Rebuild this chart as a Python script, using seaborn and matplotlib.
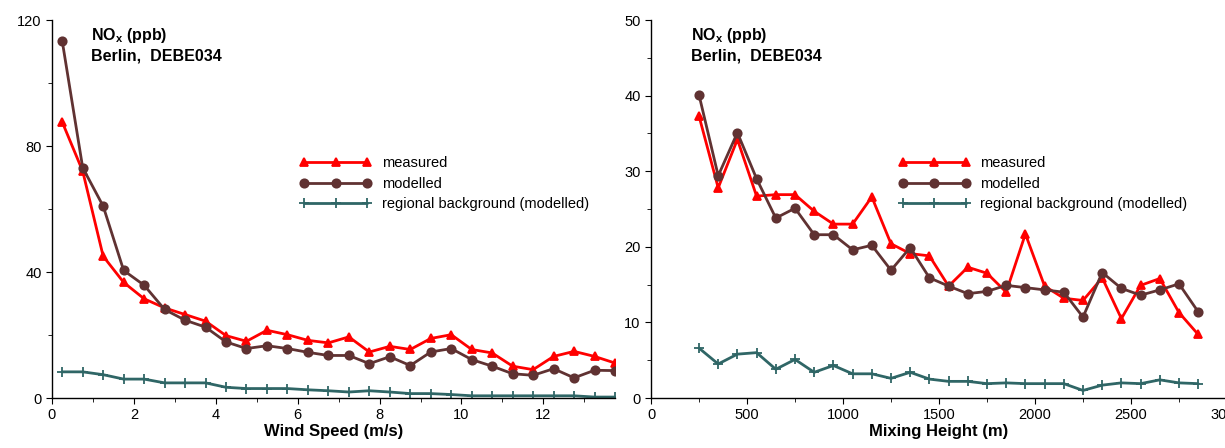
import matplotlib
matplotlib.use("Agg")
import pandas as pd
import seaborn as sns
import matplotlib.pyplot as plt
from matplotlib.ticker import MultipleLocator

# wind speed bins (m/s)
wind = [0.25, 0.75, 1.25, 1.75, 2.25, 2.75, 3.25, 3.75, 4.25, 4.75, 5.25, 5.75, 6.25, 6.75,
        7.25, 7.75, 8.25, 8.75, 9.25, 9.75, 10.25, 10.75, 11.25, 11.75, 12.25, 12.75, 13.25, 13.75]
wind_measured = [87.6, 72.0, 45.0, 36.7, 31.5, 28.6, 26.5, 24.4, 19.8, 18.0, 21.5, 20.1, 18.3, 17.5,
                 19.4, 14.6, 16.4, 15.4, 18.9, 20.1, 15.4, 14.3, 10.1, 9.0, 13.2, 14.8, 13.2, 11.1]
wind_modelled = [113.3, 73.1, 60.9, 40.5, 35.8, 28.1, 24.7, 22.5, 17.8, 15.7, 16.6, 15.7, 14.5, 13.5,
                 13.5, 10.9, 13.1, 10.3, 14.6, 15.7, 12.2, 10.1, 7.7, 7.2, 9.3, 6.4, 8.8, 8.7]
wind_background = [8.3, 8.3, 7.4, 6.0, 6.0, 4.8, 4.8, 4.8, 3.4, 3.0, 3.0, 3.0, 2.6, 2.3,
                   1.9, 2.3, 1.9, 1.4, 1.4, 1.1, 0.7, 0.7, 0.7, 0.7, 0.7, 0.7, 0.3, 0.3]

# mixing height bins (m)
mix = [250, 350, 450, 550, 650, 750, 850, 950, 1050, 1150, 1250, 1350, 1450, 1550,
       1650, 1750, 1850, 1950, 2050, 2150, 2250, 2350, 2450, 2550, 2650, 2750, 2850]
mix_measured = [37.3, 27.8, 34.2, 26.7, 26.9, 26.9, 24.7, 23.0, 23.0, 26.6, 20.4, 19.1, 18.8, 14.8,
                17.3, 16.5, 14.0, 21.7, 14.8, 13.2, 12.9, 15.9, 10.5, 14.9, 15.8, 11.3, 8.4]
mix_modelled = [40.1, 29.4, 35.1, 29.0, 23.8, 25.1, 21.6, 21.6, 19.6, 20.2, 16.9, 19.9, 15.9, 14.8,
                13.8, 14.1, 14.9, 14.6, 14.3, 14.0, 10.7, 16.6, 14.5, 13.6, 14.3, 15.1, 11.4]
mix_background = [6.6, 4.5, 5.8, 6.0, 3.8, 5.1, 3.4, 4.3, 3.2, 3.2, 2.6, 3.4, 2.5, 2.2,
                  2.2, 1.9, 2.0, 1.9, 1.9, 1.9, 1.0, 1.7, 2.0, 1.9, 2.4, 2.0, 1.9]

series_names = ["measured", "modelled", "regional background (modelled)"]
colors = {"measured": "#ff0000", "modelled": "#603232",
          "regional background (modelled)": "#2f6666"}
markers = {"measured": "^", "modelled": "o", "regional background (modelled)": "+"}
msizes = {"measured": 5.5, "modelled": 6, "regional background (modelled)": 7}

sns.set_style("ticks")
plt.rcParams["font.family"] = ["Liberation Sans", "DejaVu Sans"]
plt.rcParams["text.color"] = "black"
plt.rcParams["axes.labelcolor"] = "black"
plt.rcParams["xtick.color"] = "black"
plt.rcParams["ytick.color"] = "black"

fig = plt.figure(figsize=(12.25, 4.48), dpi=100)
ax1 = fig.add_axes([52 / 1225, 50 / 448, 563 / 1225, 378 / 448])
ax2 = fig.add_axes([651 / 1225, 50 / 448, 576 / 1225, 378 / 448])


def draw(ax, x, ys, xlabel, leg_x):
    df = pd.DataFrame({"x": x, "measured": ys[0], "modelled": ys[1],
                       "regional background (modelled)": ys[2]})
    long = df.melt(id_vars="x", var_name="series", value_name="value")
    for name in series_names:
        sns.lineplot(data=long[long["series"] == name], x="x", y="value", ax=ax,
                     color=colors[name], marker=markers[name], markersize=msizes[name],
                     markeredgewidth=1.3, markeredgecolor=colors[name],
                     linewidth=2, label=name)
    ax.set_xlabel(xlabel, fontsize=12, fontweight="bold", labelpad=1)
    ax.set_ylabel("")
    sns.despine(ax=ax)
    ax.tick_params(axis="both", which="major", length=4, labelsize=10.5)
    ax.tick_params(axis="both", which="minor", length=3)
    for s in ["left", "bottom"]:
        ax.spines[s].set_color("black")
        ax.spines[s].set_linewidth(1)
    ax.text(0.07, 0.985, "NO$_\\mathregular{x}$ (ppb)\nBerlin,  DEBE034", transform=ax.transAxes,
            fontsize=11.5, fontweight="bold", va="top", ha="left", linespacing=1.35)
    ax.legend(loc="upper left", bbox_to_anchor=(leg_x, 0.655), frameon=False, numpoints=3,
              handlelength=4.9, fontsize=10.5, labelspacing=0.45, handletextpad=0.7,
              borderaxespad=0)


draw(ax1, wind, [wind_measured, wind_modelled, wind_background], "Wind Speed (m/s)", 0.43)
ax1.set_xlim(0, 13.75)
ax1.set_ylim(0, 120)
ax1.xaxis.set_major_locator(MultipleLocator(2))
ax1.xaxis.set_minor_locator(MultipleLocator(1))
ax1.yaxis.set_major_locator(MultipleLocator(40))
ax1.yaxis.set_minor_locator(MultipleLocator(20))

draw(ax2, mix, [mix_measured, mix_modelled, mix_background], "Mixing Height (m)", 0.42)
ax2.set_xlim(0, 3000)
ax2.set_ylim(0, 50)
ax2.xaxis.set_major_locator(MultipleLocator(500))
ax2.xaxis.set_minor_locator(MultipleLocator(250))
ax2.yaxis.set_major_locator(MultipleLocator(10))
ax2.yaxis.set_minor_locator(MultipleLocator(5))

fig.savefig("out.png", dpi=100)
